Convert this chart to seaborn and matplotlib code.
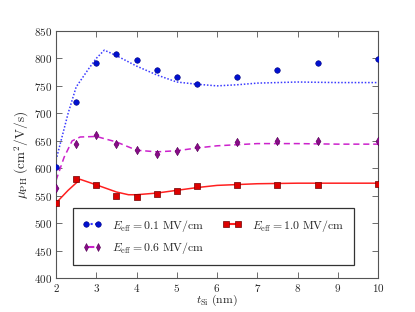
import matplotlib
matplotlib.use('Agg')
import matplotlib.pyplot as plt
import seaborn as sns
from matplotlib.lines import Line2D
from matplotlib.ticker import FuncFormatter

# measured points
t_pts = [2, 2.5, 3, 3.5, 4, 4.5, 5, 5.5, 6.5, 7.5, 8.5, 10]
mu_01 = [603, 721, 792, 808, 797, 778, 767, 753, 767, 779, 792, 798]
mu_06 = [565, 644, 660, 644, 633, 626, 632, 638, 648, 649, 650, 650]
mu_10 = [537, 580, 569, 549, 548, 554, 559, 567, 569, 570, 570, 571]

# simulated curves
t_sim_01 = [2, 2.3, 2.5, 2.8, 3.0, 3.2, 3.5, 4.0, 4.5, 5.0, 5.5, 6.0, 6.5, 7.0, 8.0, 9.0, 10.0]
sim_01 = [615, 700, 748, 780, 800, 815, 805, 786, 770, 757, 753, 750, 752, 755, 757, 756, 756]
t_sim_06 = [2, 2.2, 2.4, 2.6, 3.0, 3.5, 4.0, 4.5, 5.0, 5.5, 6.0, 6.5, 7.0, 8.0, 9.0, 10.0]
sim_06 = [578, 620, 650, 657, 658, 648, 633, 630, 632, 637, 641, 643, 645, 645, 644, 644]
t_sim_10 = [2, 2.3, 2.6, 3.0, 3.5, 3.8, 4.0, 4.5, 5.0, 5.5, 6.0, 7.0, 8.0, 9.0, 10.0]
sim_10 = [537, 560, 580, 570, 557, 552, 552, 555, 560, 565, 569, 572, 573, 573, 573]

labels = [r'$E_{\rm eff} = 0.1\ {\rm MV/cm}$', r'$E_{\rm eff} = 0.6\ {\rm MV/cm}$', r'$E_{\rm eff} = 1.0\ {\rm MV/cm}$']

sns.set_style('ticks')
plt.rcParams['font.family'] = 'serif'
plt.rcParams['font.serif'] = ['DejaVu Serif']
plt.rcParams['mathtext.fontset'] = 'cm'

fig = plt.figure(figsize=(4.15, 3.12), dpi=100)
ax = fig.add_axes([0.135, 0.108, 0.776, 0.793])

c_blue_l, c_blue_m = '#3a3aff', '#0010d0'
c_pur_l, c_pur_m = '#cc22cc', '#8a0a8a'
c_red_l, c_red_m = '#ff2020', '#dd0000'

sns.lineplot(x=t_sim_01, y=sim_01, ax=ax, color=c_blue_l, linestyle=(0, (1, 1.2)), linewidth=1.1)
sns.lineplot(x=t_sim_06, y=sim_06, ax=ax, color=c_pur_l, linestyle=(0, (4, 2.5)), linewidth=1.1)
sns.lineplot(x=t_sim_10, y=sim_10, ax=ax, color=c_red_l, linewidth=1.1)

sns.scatterplot(x=t_pts, y=mu_01, ax=ax, marker='o', s=16, color=c_blue_m, edgecolor='#000080', linewidth=0.4, zorder=3)
sns.scatterplot(x=t_pts, y=mu_06, ax=ax, marker='d', s=18, color=c_pur_m, edgecolor='#500050', linewidth=0.4, zorder=3)
sns.scatterplot(x=t_pts, y=mu_10, ax=ax, marker='s', s=14, color=c_red_m, edgecolor='#700000', linewidth=0.5, zorder=3)

ax.set_xlim(2, 10)
ax.set_ylim(400, 850)
ax.set_xticks(range(2, 11))
ax.set_yticks(range(400, 851, 50))
ax.xaxis.set_major_formatter(FuncFormatter(lambda v, p: r'$%d$' % v))
ax.yaxis.set_major_formatter(FuncFormatter(lambda v, p: r'$%d$' % v))
ax.tick_params(direction='in', top=True, right=True, labelsize=8, length=4, width=0.6, color='#555555', pad=3)
for s in ax.spines.values():
    s.set_color('#555555')
    s.set_linewidth(0.8)

ax.set_xlabel(r'$t_{\rm Si}\ {\rm (nm)}$', fontsize=8.5)
ax.xaxis.set_label_coords(0.5, -0.06)
ax.set_ylabel(r'$\mu_{\rm PH}\ {\rm (cm^2/V/s)}$', fontsize=9.5, labelpad=2)

handles = [
    Line2D([], [], color=c_blue_l, linestyle=(0, (1, 1.2)), marker='o', markersize=4, markerfacecolor=c_blue_m, markeredgecolor='#000080', markeredgewidth=0.4),
    Line2D([], [], color=c_pur_l, linestyle=(0, (4, 2.5)), marker='d', markersize=4.2, markerfacecolor=c_pur_m, markeredgecolor='#500050', markeredgewidth=0.4),
    Line2D([], [], color=c_red_l, marker='s', markersize=3.8, markerfacecolor=c_red_m, markeredgecolor='#700000', markeredgewidth=0.5),
]
leg = ax.legend(handles, labels, ncol=2, loc='lower center', bbox_to_anchor=(0.489, 0.052),
                borderaxespad=0, fontsize=8.5, frameon=True, fancybox=False, edgecolor='black', numpoints=2,
                handlelength=1.6, handletextpad=0.9, columnspacing=1.5, borderpad=0.8, labelspacing=0.55)
leg.get_frame().set_linewidth(0.9)

fig.savefig('out.png', dpi=100)
